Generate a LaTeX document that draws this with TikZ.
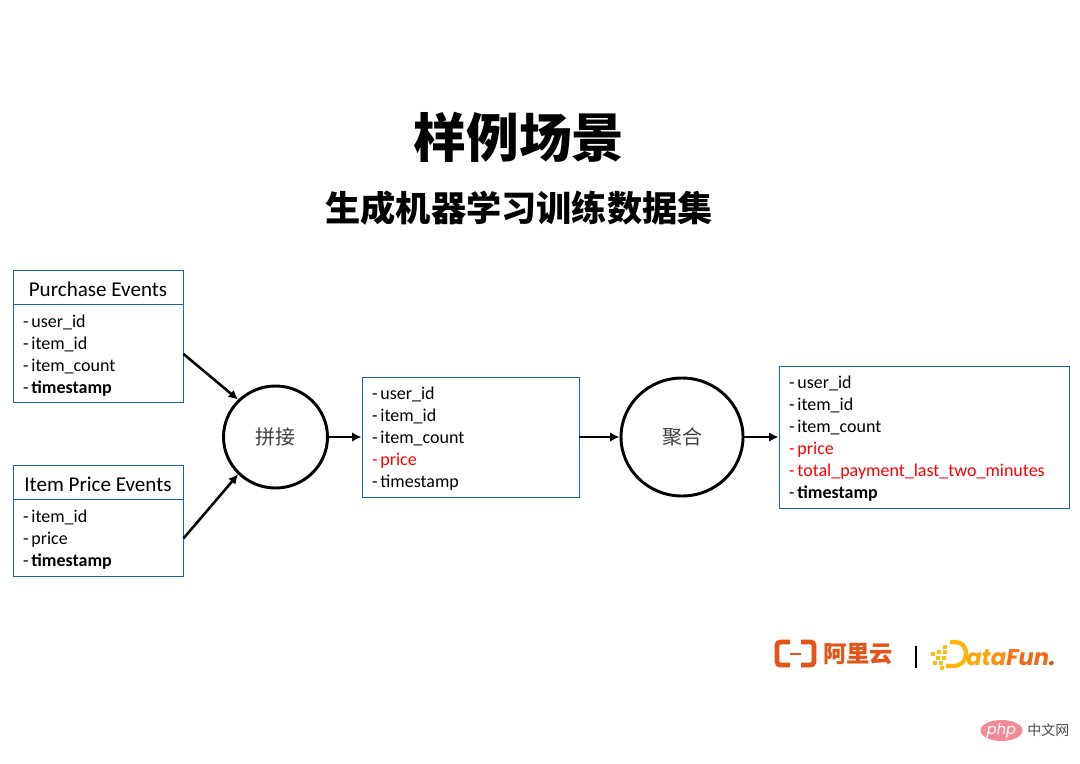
\documentclass[tikz,border=0pt]{standalone}
\usepackage{fontspec}
\setmainfont{Carlito}
\newfontfamily\cjk{Noto Sans CJK SC}
\newfontfamily\logofont{Poppins}
\usetikzlibrary{positioning,arrows.meta,shapes.geometric}
\definecolor{boxblue}{RGB}{31,100,160}
\definecolor{aliorange}{RGB}{226,84,24}
\definecolor{funyellow}{RGB}{255,190,10}
\definecolor{funorange}{RGB}{250,110,20}
\definecolor{phpred}{RGB}{240,140,150}
\tikzset{
    headbox/.style={draw=boxblue, line width=0.7pt, minimum width=170*0.75pt, minimum height=34*0.75pt,
        inner sep=0pt, text height=17.5pt, text depth=3pt, font=\fontsize{15.8}{18}\selectfont},
    fieldbox/.style={draw=boxblue, line width=0.7pt, inner xsep=7.5pt, inner ysep=0pt, align=left,
        font=\fontsize{13.5}{16.5}\selectfont,
        execute at begin node={\spaceskip=0.16em\relax\rule{0pt}{11.5pt}}},
    opnode/.style={draw, ellipse, line width=2.2pt, inner sep=0pt, font=\cjk\fontsize{15}{17}\selectfont, text=black!75},
    flow/.style={-{Latex[length=7pt,width=7pt]}, line width=1.9pt},
}
\newcommand{\redline}[1]{\textcolor{red}{- #1}}
\begin{document}
\begin{tikzpicture}[x=0.75pt,y=-0.75pt]
    \useasboundingbox (0,0) rectangle (1080,763);
    \fill[white] (0,0) rectangle (1080,763);

    % Titles
    \node[font=\cjk\bfseries\fontsize{39.5}{44}\selectfont] (title) at (519,137) {样例场景};
    \node[font=\cjk\bfseries\fontsize{26.4}{30}\selectfont] (subtitle) at (519,208) {生成机器学习训练数据集};

    % Input tables
    \node[headbox] (purchasehead) at (98,287) {Purchase Events};
    \node[fieldbox, text width=150*0.75pt, minimum height=98*0.75pt, below=0pt of purchasehead] (purchase)
        {- user\_id\\- item\_id\\- item\_count\\- \textbf{timestamp}};
    \node[headbox] (pricehead) at (98,482) {Item Price Events};
    \node[fieldbox, text width=150*0.75pt, minimum height=77*0.75pt, below=0pt of pricehead] (price)
        {- item\_id\\- price\\- \textbf{timestamp}};

    % Join and aggregate steps
    \node[opnode, minimum width=104*0.75pt, minimum height=102*0.75pt] (join) at (275.5,437) {拼接};
    \node[fieldbox, text width=197*0.75pt, minimum height=120*0.75pt] (joined) at (470.5,437)
        {- user\_id\\- item\_id\\- item\_count\\\redline{price}\\- timestamp};
    \node[opnode, minimum width=122*0.75pt, minimum height=118*0.75pt] (agg) at (682,437) {聚合};
    \node[fieldbox, text width=270*0.75pt, minimum height=142*0.75pt] (result) at (924,437)
        {- user\_id\\- item\_id\\- item\_count\\\redline{price}\\\redline{total\_payment\_last\_two\_minutes}\\- \textbf{timestamp}};

    % Connectors
    \draw[flow] (purchase.east) -- (join.135);
    \draw[flow] (price.east) -- (join.225);
    \draw[flow] (join.east) -- (joined.west);
    \draw[flow] (joined.east) -- (agg.west);
    \draw[flow] (agg.east) -- (result.west);

    % Aliyun logo
    \draw[aliorange, line width=3.6pt, rounded corners=2.5pt] (790,642) -- (777,642) -- (777,665) -- (790,665);
    \draw[aliorange, line width=3.6pt, rounded corners=2.5pt] (801,642) -- (814,642) -- (814,665) -- (801,665);
    \draw[aliorange, line width=1.4pt] (790,654) -- (801,654);
    \node[font=\cjk\bfseries\fontsize{17.5}{20}\selectfont, text=aliorange] (aliyun) at (858,654) {阿里云};
    \draw[black, line width=1.2pt] (916,646) -- (916,668);

    % DataFun logo
    \foreach \px/\py in {943/645,937/650,943/650,931/652,936/656,942/656,933/661,939/661,940/666}
        \fill[funyellow] (\px,\py) rectangle ++(3.8,3.8);
    \draw[funyellow!90!funorange, line width=3.2pt] (950,642) -- (953,642) .. controls (964,642) and (966,648) .. (966,654)
        .. controls (966,661) and (961,666) .. (953,666) -- (946,666);
    \node[anchor=west, inner sep=0pt, font=\logofont\bfseries\itshape\fontsize{17}{20}\selectfont] (datafun) at (966,658)
        {\textcolor{funyellow!70!funorange}{at}\textcolor{funyellow!40!funorange}{a}\textcolor{funorange}{F}\textcolor{funorange!70!aliorange}{un}\textcolor{aliorange}{.}};

    % Watermark
    \node[ellipse, fill=phpred, minimum width=42*0.75pt, minimum height=21*0.75pt, inner sep=0pt,
        text=white, font=\logofont\itshape\fontsize{11}{12}\selectfont] (php) at (1001.5,730.5) {php};
    \node[anchor=west, inner sep=0pt, text=black!70, font=\cjk\fontsize{10.5}{12}\selectfont] (phpcn) at (1027,730.5) {中文网};
\end{tikzpicture}
\end{document}
